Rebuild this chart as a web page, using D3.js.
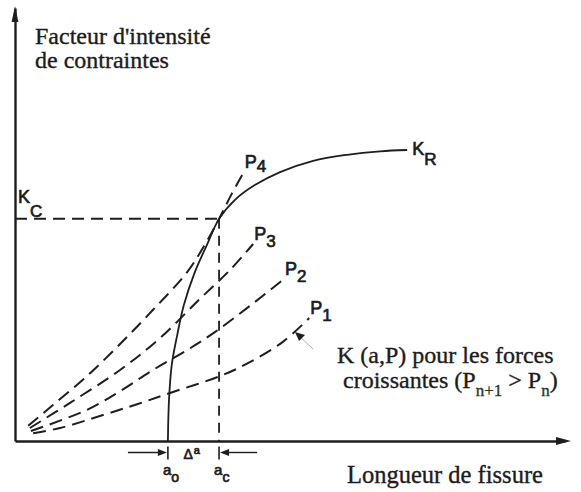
<!DOCTYPE html>
<html>
<head>
<meta charset="utf-8">
<script src="https://cdn.jsdelivr.net/npm/d3@7"></script>
<style>
  html, body { margin: 0; padding: 0; background: #fff; }
  svg { display: block; }
  .serif { font-family: "Liberation Serif", "Times New Roman", serif; fill: #1c1c1c; stroke: #1c1c1c; stroke-width: 0.35px; }
  .sans  { font-family: "Liberation Sans", Arial, sans-serif; fill: #1c1c1c; stroke: #1c1c1c; stroke-width: 0.7px; }
</style>
</head>
<body>
<svg id="chart" width="581" height="492"></svg>
<script>
// Crack length a and stress intensity factor K, in arbitrary units (0–100).
// Crack growth resistance curve K_R(a), starting at the initial crack length a0.
const resistanceA = [27.8, 28.0, 28.5, 29.5, 30.7, 32.7, 34.9, 37.1, 40.0, 43.6, 48.2, 54.2, 60.4, 66.4, 71.3];
const resistanceK = [0, 9.5, 17.6, 24.5, 31.4, 39.0, 45.3, 51.3, 55.7, 59.1, 62.1, 64.7, 66.1, 66.9, 67.2];

// Applied K(a, P) curves for increasing loads P1 < P2 < P3 < P4
const loadNames = ["P", "P", "P", "P"];
const loadIndex = ["1", "2", "3", "4"];
const p1A = [3.3, 8.2, 16.0, 22.2, 28.2, 37.3, 42.7, 48.7, 53.5];
const p1K = [1.8, 3.0, 6.0, 8.5, 11.1, 15.0, 18.2, 22.9, 28.4];
const p2A = [2.9, 13.1, 19.1, 25.1, 31.3, 36.4, 42.7, 48.9];
const p2K = [2.3, 7.2, 11.5, 16.4, 21.0, 25.2, 31.2, 37.4];
const p3A = [2.7, 10.0, 19.1, 26.4, 33.6, 39.1, 43.3];
const p3K = [3.0, 8.8, 16.4, 23.8, 32.8, 39.5, 45.5];
const p4A = [2.4, 6.9, 13.1, 19.1, 25.1, 31.3, 34.5, 37.1, 39.5, 41.6];
const p4K = [3.5, 8.3, 15.0, 22.4, 30.3, 39.0, 45.3, 51.3, 57.3, 62.1];

// Instability point: initial crack a0, critical crack ac, critical K_C
const a0 = 27.8;
const ac = 37.1;
const Kc = 51.3;

// Texts
const yTitleLines = ["Facteur d'intensité", "de contraintes"];
const xTitle = "Longueur de fissure";
const noteLine1 = "K (a,P) pour les forces";
const noteLine2 = ["croissantes (P", "n+1", " > P", "n", ")"];

const svg = d3.select("#chart");
const ink = "#1e1e1e";

const x = d3.scaleLinear().domain([0, 100]).range([15, 565]);
const y = d3.scaleLinear().domain([0, 100]).range([441, 8]);

const zip = (as, ks) => as.map((a, i) => [a, ks[i]]);
const line = d3.line()
  .x(d => x(d[0]))
  .y(d => y(d[1]))
  .curve(d3.curveCatmullRom.alpha(0.5));

// Axes (domain lines only, no ticks)
svg.append("g")
  .attr("transform", `translate(0,${y(0)})`)
  .call(d3.axisBottom(x).tickValues([]).tickSizeOuter(0))
  .call(g => g.select(".domain").attr("stroke", ink).attr("stroke-width", 2.4));
svg.append("g")
  .attr("transform", `translate(${x(0)},0)`)
  .call(d3.axisLeft(y).tickValues([]).tickSizeOuter(0))
  .call(g => g.select(".domain").attr("stroke", ink).attr("stroke-width", 2.4));

// Arrowheads at the axis ends
const yTip = [x(0), y(100) - 2];
svg.append("path")
  .attr("d", `M${yTip[0]},${yTip[1]} L${yTip[0] + 3.4},${yTip[1] + 16} L${yTip[0] - 3.4},${yTip[1] + 16} Z`)
  .attr("fill", ink);
const xTip = [x(100) + 6, y(0)];
svg.append("path")
  .attr("d", `M${xTip[0]},${xTip[1]} L${xTip[0] - 15},${xTip[1] - 4} L${xTip[0] - 15},${xTip[1] + 4} Z`)
  .attr("fill", ink);

// K_C level and critical crack length
const dash = "12,7";
svg.append("line")
  .attr("x1", x(0)).attr("x2", x(ac))
  .attr("y1", y(Kc)).attr("y2", y(Kc))
  .attr("stroke", ink).attr("stroke-width", 2).attr("stroke-dasharray", dash);
svg.append("line")
  .attr("x1", x(ac)).attr("x2", x(ac))
  .attr("y1", y(Kc)).attr("y2", y(0))
  .attr("stroke", ink).attr("stroke-width", 1.8).attr("stroke-dasharray", "10,7");

// Applied K curves
const loads = [zip(p1A, p1K), zip(p2A, p2K), zip(p3A, p3K), zip(p4A, p4K)];
svg.append("g").selectAll("path")
  .data(loads)
  .join("path")
  .attr("d", line)
  .attr("fill", "none")
  .attr("stroke", ink)
  .attr("stroke-width", 2)
  .attr("stroke-dasharray", "13,7");

// Resistance curve K_R
svg.append("path")
  .attr("d", line(zip(resistanceA, resistanceK)))
  .attr("fill", "none")
  .attr("stroke", ink)
  .attr("stroke-width", 1.8);

// Curve labels P1..P4
loads.forEach((pts, i) => {
  const end = pts[pts.length - 1];
  const t = svg.append("text").attr("class", "sans")
    .attr("x", x(end[0]) + 1)
    .attr("y", y(end[1]) - 4)
    .attr("font-size", 18);
  t.append("tspan").text(loadNames[i]);
  t.append("tspan").attr("dy", i === 3 ? 4 : 7).attr("font-size", 17).text(loadIndex[i]);
});

// K_R label
const krEnd = [resistanceA[resistanceA.length - 1], resistanceK[resistanceK.length - 1]];
const kr = svg.append("text").attr("class", "sans")
  .attr("x", x(krEnd[0]) + 5).attr("y", y(krEnd[1]) + 5).attr("font-size", 18);
kr.append("tspan").text("K");
kr.append("tspan").attr("dy", 10).attr("font-size", 17).text("R");

// K_C label
const kc = svg.append("text").attr("class", "sans")
  .attr("x", x(0) + 3).attr("y", y(Kc) - 16).attr("font-size", 18);
kc.append("tspan").text("K");
kc.append("tspan").attr("dy", 14).attr("font-size", 17).text("C");

// Δa dimension below the axis
const dimY = y(0) + 11.5;
[a0, ac].forEach(v => {
  svg.append("line")
    .attr("x1", x(v)).attr("x2", x(v))
    .attr("y1", dimY - 6).attr("y2", dimY + 7)
    .attr("stroke", ink).attr("stroke-width", 1.6);
});
svg.append("line")
  .attr("x1", x(a0) - 40).attr("x2", x(a0) - 8)
  .attr("y1", dimY).attr("y2", dimY)
  .attr("stroke", ink).attr("stroke-width", 1.4);
svg.append("path")
  .attr("d", `M${x(a0) - 1},${dimY} L${x(a0) - 10},${dimY - 3.5} L${x(a0) - 10},${dimY + 3.5} Z`)
  .attr("fill", ink);
svg.append("line")
  .attr("x1", x(ac) + 8).attr("x2", x(ac) + 38)
  .attr("y1", dimY).attr("y2", dimY)
  .attr("stroke", ink).attr("stroke-width", 1.4);
svg.append("path")
  .attr("d", `M${x(ac) + 1},${dimY} L${x(ac) + 10},${dimY - 3.5} L${x(ac) + 10},${dimY + 3.5} Z`)
  .attr("fill", ink);

const da = svg.append("text").attr("class", "sans")
  .attr("x", x((a0 + ac) / 2) - 10).attr("y", dimY + 6).attr("font-size", 14);
da.append("tspan").text("Δ");
da.append("tspan").attr("dy", -5).attr("dx", 1).attr("font-size", 11).text("a");

[[a0, "o"], [ac, "c"]].forEach(([v, s]) => {
  const t = svg.append("text").attr("class", "sans")
    .attr("x", x(v) - 5).attr("y", y(0) + 34).attr("font-size", 15);
  t.append("tspan").text("a");
  t.append("tspan").attr("dy", 7).attr("font-size", 14).text(s);
});

// Axis titles
svg.append("g").selectAll("text")
  .data(yTitleLines)
  .join("text")
  .attr("class", "serif")
  .attr("x", 35)
  .attr("y", (d, i) => 44 + i * 24)
  .attr("font-size", 24)
  .text(d => d);

svg.append("text").attr("class", "serif")
  .attr("x", 347).attr("y", 483).attr("font-size", 24.5)
  .text(xTitle);

// Note on the applied K curves, with its pointer
svg.append("line")
  .attr("x1", 296).attr("y1", 333).attr("x2", 313).attr("y2", 349)
  .attr("stroke", "#9a9a9a").attr("stroke-width", 0.8);
svg.append("path")
  .attr("d", "M295,332 L305,335 L299,341 Z")
  .attr("fill", ink);

svg.append("text").attr("class", "serif")
  .attr("x", 337).attr("y", 363).attr("font-size", 24)
  .text(noteLine1);

const n2 = svg.append("text").attr("class", "serif")
  .attr("x", 343).attr("y", 388).attr("font-size", 24);
n2.append("tspan").text(noteLine2[0]);
n2.append("tspan").attr("dy", 8).attr("font-size", 17).attr("fill", "#253a25").attr("stroke", "#253a25").text(noteLine2[1]);
n2.append("tspan").attr("dy", -8).text(noteLine2[2]);
n2.append("tspan").attr("dy", 8).attr("font-size", 17).attr("fill", "#253a25").attr("stroke", "#253a25").text(noteLine2[3]);
n2.append("tspan").attr("dy", -8).text(noteLine2[4]);
</script>
</body>
</html>
